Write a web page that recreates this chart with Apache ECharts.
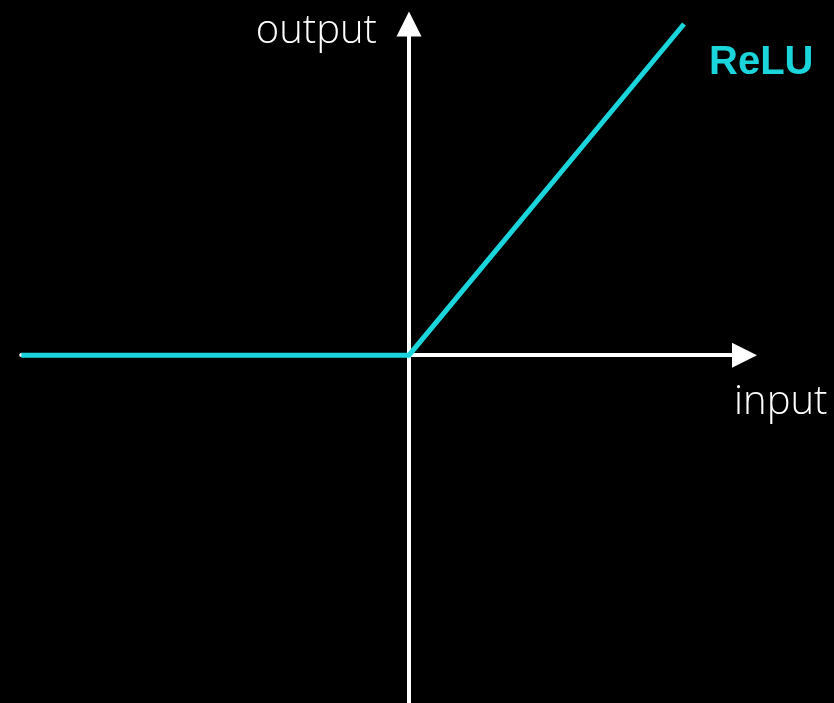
<!DOCTYPE html>
<html>
<head>
<meta charset="utf-8">
<script src="https://cdn.jsdelivr.net/npm/echarts@6/dist/echarts.min.js"></script>
<style>
html,body{margin:0;padding:0;background:#000;}
#main{width:834px;height:703px;}
</style>
</head>
<body>
<div id="main"></div>
<script>
// Data
const inputValues = [-1.41, 0, 1];
const outputValues = [0, 0, 1];
const seriesName = 'ReLU';
const xAxisTitle = 'input';
const yAxisTitle = 'output';

const cyan = '#1bd5dc';
const chart = echarts.init(document.getElementById('main'));
const pts = inputValues.map((x, i) => [x, outputValues[i]]);

chart.setOption({
  backgroundColor: '#000',
  animation: false,
  grid: { left: 21.25, top: 24, width: 723.25, height: 680.6 },
  xAxis: {
    type: 'value', min: -1.41, max: 1.22,
    axisLine: { onZero: true, show: true, lineStyle: { color: '#fff', width: 4 },
      symbol: ['none', 'triangle'], symbolSize: [25, 25], symbolOffset: [0, 0] },
    axisTick: { show: false }, axisLabel: { show: false }, splitLine: { show: false }
  },
  yAxis: {
    type: 'value', min: -1.05, max: 1,
    axisLine: { onZero: true, show: true, lineStyle: { color: '#fff', width: 4 },
      symbol: ['none', 'triangle'], symbolSize: [25, 25], symbolOffset: [0, 0] },
    axisTick: { show: false }, axisLabel: { show: false }, splitLine: { show: false }
  },
  series: [{
    name: seriesName,
    type: 'line',
    data: pts,
    showSymbol: false,
    clip: false,
    lineStyle: { color: cyan, width: 5, cap: 'butt', join: 'miter' },
    z: 3
  }],
  graphic: [
    { type: 'text', x: 377, y: 32, style: { text: yAxisTitle, fill: '#fff', font: '300 40px "Open Sans", sans-serif', textAlign: 'right', textVerticalAlign: 'middle' } },
    { type: 'text', x: 734, y: 403, style: { text: xAxisTitle, fill: '#fff', font: '300 40px "Open Sans", sans-serif', textAlign: 'left', textVerticalAlign: 'middle' } },
    { type: 'text', x: 709, y: 63, style: { text: seriesName, fill: cyan, font: 'bold 40px "Liberation Sans", Arial, sans-serif', textAlign: 'left', textVerticalAlign: 'middle' } }
  ]
});
</script>
</body>
</html>
